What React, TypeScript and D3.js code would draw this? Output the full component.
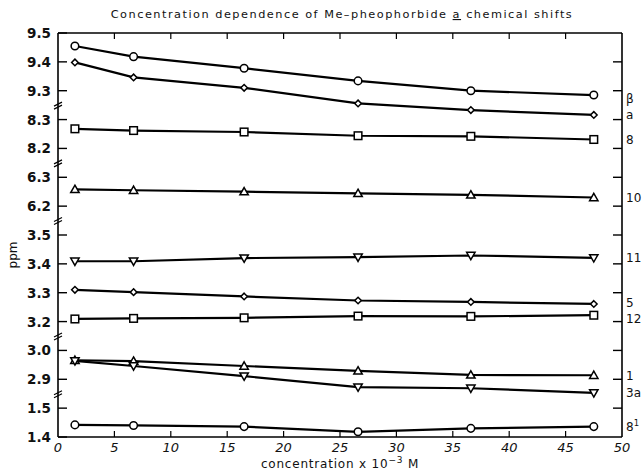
import React from "react";
import * as d3 from "d3";

const W = 644;
const H = 472;

const concentrations = [1.5, 6.7, 16.5, 26.6, 36.6, 47.5];
const xTicks = [0, 5, 10, 15, 20, 25, 30, 35, 40, 45, 50];

const seriesNames = ["β", "a", "8", "10", "11", "5", "12", "1", "3a", "8¹"];
const betaShift = [9.455, 9.418, 9.378, 9.334, 9.3, 9.285];
const alphaShift = [9.398, 9.346, 9.31, 9.256, 9.233, 9.216];
const h8Shift = [8.268, 8.262, 8.257, 8.244, 8.242, 8.231];
const h10Shift = [6.258, 6.255, 6.25, 6.244, 6.239, 6.23];
const h11Shift = [3.409, 3.409, 3.42, 3.423, 3.429, 3.421];
const h5Shift = [3.31, 3.302, 3.287, 3.273, 3.268, 3.261];
const h12Shift = [3.209, 3.211, 3.213, 3.219, 3.218, 3.222];
const h1Shift = [2.966, 2.963, 2.946, 2.929, 2.915, 2.914];
const h3aShift = [2.964, 2.946, 2.911, 2.873, 2.869, 2.853];
const h81Shift = [1.442, 1.44, 1.436, 1.418, 1.43, 1.436];

// axis segments of the broken y axis: [top value, bottom value]
const segmentDomains: [number, number][] = [
  [9.5, 9.3],
  [8.3, 8.2],
  [6.3, 6.2],
  [3.5, 3.2],
  [3.0, 2.9],
  [1.5, 1.4],
];
const tickStep = 0.1;

const seriesValues = [
  betaShift, alphaShift, h8Shift, h10Shift, h11Shift,
  h5Shift, h12Shift, h1Shift, h3aShift, h81Shift,
];
const seriesSegment = [0, 0, 1, 2, 3, 3, 3, 4, 4, 5];
const seriesMarker = [
  "circle", "diamond", "square", "triUp", "triDown",
  "diamond", "square", "triUp", "triDown", "circle",
];

const left = 58;
const right = 622;
const top = 33;
const bottom = 437;

export default function App() {
  const x = d3.scaleLinear().domain([0, 50]).range([left, right]);

  const slotCounts = segmentDomains.map(([a, b]) => Math.round((a - b) / tickStep) + 1);
  const totalSlots = d3.sum(slotCounts);
  const slot = d3.scaleLinear().domain([0, totalSlots - 1]).range([top, bottom]);
  let acc = 0;
  const segScales = segmentDomains.map(([a, b], i) => {
    const i0 = acc;
    const i1 = acc + slotCounts[i] - 1;
    acc += slotCounts[i];
    return d3.scaleLinear().domain([a, b]).range([slot(i0), slot(i1)]);
  });

  const yTicks: { v: number; y: number; seg: number }[] = [];
  segmentDomains.forEach(([a], si) => {
    const n = slotCounts[si];
    for (let k = 0; k < n; k++) {
      const v = +(a - k * tickStep).toFixed(2);
      yTicks.push({ v, y: segScales[si](v), seg: si });
    }
  });

  const breaks = segScales.slice(0, -1).map((s, i) => {
    const yA = s.range()[1];
    const yB = segScales[i + 1].range()[0];
    return (yA + yB) / 2;
  });

  const line = d3.line<[number, number]>().x((d) => d[0]).y((d) => d[1]);

  const marker = (type: string, cx: number, cy: number, key: string) => {
    const common = { fill: "white", stroke: "black", strokeWidth: 1.5 };
    if (type === "circle") return <circle key={key} cx={cx} cy={cy} r={3.8} {...common} />;
    if (type === "square")
      return <rect key={key} x={cx - 3.8} y={cy - 3.8} width={7.6} height={7.6} {...common} />;
    if (type === "diamond") {
      const s = 3.3;
      return <path key={key} d={`M${cx},${cy - s}L${cx + s},${cy}L${cx},${cy + s}L${cx - s},${cy}Z`} {...common} />;
    }
    if (type === "triUp") {
      const s = 4.2;
      return <path key={key} d={`M${cx},${cy - s}L${cx + s},${cy + s * 0.75}L${cx - s},${cy + s * 0.75}Z`} {...common} />;
    }
    const s = 4.2;
    return <path key={key} d={`M${cx},${cy + s}L${cx + s},${cy - s * 0.75}L${cx - s},${cy - s * 0.75}Z`} {...common} />;
  };

  const font = "'DejaVu Sans', 'Liberation Sans', sans-serif";

  return (
    <svg width={W} height={H} style={{ position: "absolute", left: 0, top: 0, background: "white" }}>
      <rect width={W} height={H} fill="white" />
      {/* title */}
      <text x={342} y={18} textAnchor="middle" fontFamily={font} fontSize={11.3} letterSpacing={1.5} fill="#111">
        Concentration dependence of Me–pheophorbide <tspan textDecoration="underline">a</tspan> chemical shifts
      </text>

      {/* frame */}
      <g stroke="black" strokeWidth={1.6} fill="none">
        <line x1={left} y1={top} x2={right} y2={top} />
        <line x1={right} y1={top} x2={right} y2={bottom} />
        <line x1={left} y1={bottom} x2={right} y2={bottom} />
        <line x1={left} y1={top} x2={left} y2={bottom} />
      </g>

      {/* x ticks */}
      {xTicks.map((t) => (
        <g key={`xt${t}`}>
          {t > 0 && t < 50 && (
            <>
              <line x1={x(t)} x2={x(t)} y1={bottom} y2={bottom - 6} stroke="black" strokeWidth={1.2} />
              <line x1={x(t)} x2={x(t)} y1={top} y2={top + 6} stroke="black" strokeWidth={1.2} />
            </>
          )}
          <text x={x(t)} y={452} textAnchor="middle" fontFamily={font} fontStyle="italic" fontSize={13} fill="#111">
            {t}
          </text>
        </g>
      ))}

      {/* y ticks */}
      {yTicks.map((t, i) => (
        <g key={`yt${i}`}>
          <line x1={left} x2={left + 9} y1={t.y} y2={t.y} stroke="black" strokeWidth={1.4} />
          {i > 0 && i < yTicks.length - 1 && (
            <line x1={right} x2={right - 9} y1={t.y} y2={t.y} stroke="black" strokeWidth={1.4} />
          )}
          <text x={51} y={t.y + 5} textAnchor="end" fontFamily={font} fontWeight="bold" fontSize={13.5} fill="#111">
            {t.v.toFixed(1)}
          </text>
        </g>
      ))}

      {/* break marks */}
      {breaks.map((by, i) => (
        <g key={`br${i}`} stroke="black" strokeWidth={1.2}>
          <line x1={left - 4} y1={by + 1} x2={left + 4} y2={by - 3} />
          <line x1={left - 4} y1={by + 4} x2={left + 4} y2={by} />
        </g>
      ))}

      {/* series */}
      {seriesValues.map((vals, si) => {
        const ys = segScales[seriesSegment[si]];
        const pts: [number, number][] = vals.map((v, k) => [x(concentrations[k]), ys(v)]);
        return (
          <g key={`s${si}`}>
            <path d={line(pts) || ""} fill="none" stroke="black" strokeWidth={2.2} />
            {pts.map((p, k) => marker(seriesMarker[si], p[0], p[1], `m${si}-${k}`))}
          </g>
        );
      })}

      {/* right labels */}
      {seriesValues.map((vals, si) => {
        const ys = segScales[seriesSegment[si]];
        const yl = ys(vals[vals.length - 1]);
        const adj = si === 0 ? 3 : si === 5 ? -1.5 : si === 6 ? 3.5 : 0;
        const name = seriesNames[si];
        return (
          <text key={`lab${si}`} x={626} y={yl + adj + 4.5} fontFamily={font} fontSize={12} fill="#111">
            {name === "8¹" ? (
              <>
                8<tspan dy={-5} fontSize={8.5}>1</tspan>
              </>
            ) : (
              name
            )}
          </text>
        );
      })}

      {/* axis titles */}
      <text
        transform={`translate(17,${(top + bottom) / 2 + 20}) rotate(-90)`}
        textAnchor="middle"
        fontFamily={font}
        fontSize={12}
        fill="#111"
      >
        ppm
      </text>
      <text x={340} y={468} textAnchor="middle" fontFamily={font} fontSize={12} letterSpacing={0.8} fill="#111">
        concentration x 10<tspan dy={-5} fontSize={9}>−3</tspan>
        <tspan dy={5}> M</tspan>
      </text>
    </svg>
  );
}
